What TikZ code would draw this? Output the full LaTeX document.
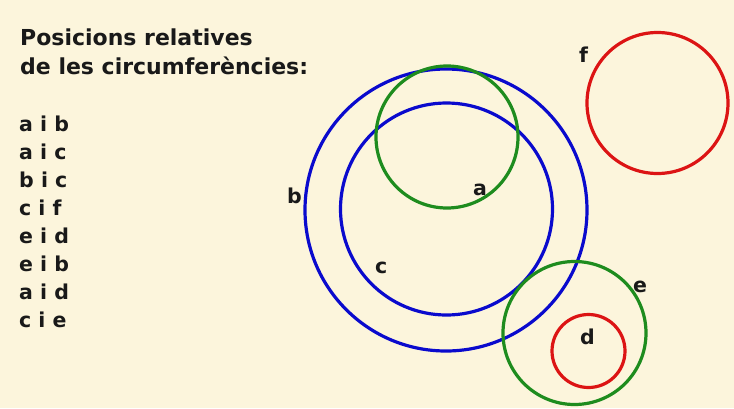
\documentclass[tikz,border=0pt]{standalone}
\usepackage{fontspec}
\setmainfont{DejaVu Sans}
\definecolor{bgc}{RGB}{252,245,220}
\definecolor{cblue}{RGB}{10,10,205}
\definecolor{cgreen}{RGB}{30,140,30}
\definecolor{cred}{RGB}{220,20,20}
\tikzset{
  ring/.style={circle, draw, line width=3.2pt, inner sep=0pt, outer sep=0pt},
  ttl/.style={anchor=base west, inner sep=0pt, font=\bfseries\fontsize{22}{26}\selectfont, text=black!90},
  txt/.style={anchor=base west, inner sep=0pt, font=\bfseries\fontsize{20.5}{24}\selectfont, text=black!90},
  lbl/.style={anchor=base west, inner sep=0pt, font=\bfseries\fontsize{20.5}{24}\selectfont, text=black!90}
}
\begin{document}
\begin{tikzpicture}[x=1pt,y=-1pt]
\fill[bgc] (0,0) rectangle (734,408);
\useasboundingbox (0,0) rectangle (734,408);
% title
\node[ttl] (t1) at (20,45) {Posicions relatives};
\node[ttl] (t2) at (20,74) {de les circumferències:};
% list
\foreach \s [count=\k from 0] in {a i b,a i c,b i c,c i f,e i d,e i b,a i d,c i e}
  \node[txt] (l\k) at (19,131+28*\k) {\s};
% circles
\node[ring, draw=cblue, minimum size=282pt] (b) at (446,210) {};
\node[ring, draw=cblue, minimum size=212pt] (c) at (446.5,209) {};
\node[ring, draw=cgreen, minimum size=142pt] (a) at (447,137) {};
\node[ring, draw=cred, minimum size=141pt] (f) at (657.5,103) {};
\node[ring, draw=cgreen, minimum size=143pt] (e) at (574.5,333) {};
\node[ring, draw=cred, minimum size=73pt] (d) at (588.5,351) {};
% labels
\node[lbl] (lb) at (287,203) {b};
\node[lbl] (la) at (473,195) {a};
\node[lbl] (lc) at (375,273) {c};
\node[lbl] (lf) at (579,62) {f};
\node[lbl] (le) at (633,292) {e};
\node[lbl] (ld) at (580,344) {d};
\end{tikzpicture}
\end{document}
